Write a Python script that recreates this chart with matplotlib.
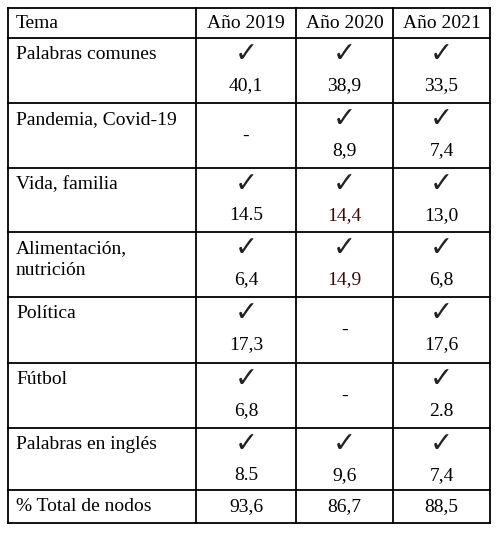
import matplotlib
matplotlib.use("Agg")
import matplotlib.pyplot as plt

headers = ["Tema", "Año 2019", "Año 2020", "Año 2021"]
topics = ["Palabras comunes", "Pandemia, Covid-19", "Vida, familia", "Alimentación,\nnutrición",
          "Política", "Fútbol", "Palabras en inglés"]
v2019 = ["40,1", None, "14.5", "6,4", "17,3", "6,8", "8.5"]
v2020 = ["38,9", "8,9", "14,4", "14,9", None, None, "9,6"]
v2021 = ["33,5", "7,4", "13,0", "6,8", "17,6", "2.8", "7,4"]
totals_label = "% Total de nodos"
totals = ["93,6", "86,7", "88,5"]
highlight = {(1, 2), (1, 3)}  # (col, row) in dark red

W, H = 502, 533
fig = plt.figure(figsize=(W/100, H/100), dpi=100)
ax = fig.add_axes([0, 0, 1, 1])
ax.set_xlim(0, W); ax.set_ylim(H, 0); ax.axis("off")

xs = [8, 196, 296, 393, 490]
ys = [8, 38, 103, 168, 232, 297, 363, 428, 490, 523]
lw = 1.3
for x in xs:
    ax.plot([x, x], [ys[0], ys[-1]], color="black", lw=lw)
for y in ys:
    ax.plot([xs[0], xs[-1]], [y, y], color="black", lw=lw)

ff = "Liberation Serif"
fs = 14
for i, h in enumerate(headers):
    if i == 0:
        ax.text(16, 23, h, fontsize=fs, family=ff, va="center", ha="left")
    else:
        ax.text((xs[i]+xs[i+1])/2, 23, h, fontsize=fs, family=ff, va="center", ha="center")

cols = [v2019, v2020, v2021]
for r, t in enumerate(topics):
    top = ys[r+1]
    ax.text(16, top+8, t, fontsize=fs, family=ff, va="top", ha="left", linespacing=1.35)
    for c, col in enumerate(cols):
        cx = (xs[c+1]+xs[c+2])/2
        v = col[r]
        if v is None:
            ax.text(cx, top+33, "-", fontsize=fs, family=ff, va="center", ha="center")
        else:
            ax.text(cx, top+16, "✓", fontsize=20, family="DejaVu Sans", va="center", ha="center", color="#222222")
            color = "#3d0c0c" if (c, r) in highlight else "black"
            ax.text(cx, top+48, v, fontsize=fs, family=ff, va="center", ha="center", color=color)

ax.text(16, (ys[-2]+ys[-1])/2, totals_label, fontsize=fs, family=ff, va="center", ha="left")
for c, v in enumerate(totals):
    ax.text((xs[c+1]+xs[c+2])/2, (ys[-2]+ys[-1])/2, v, fontsize=fs, family=ff, va="center", ha="center")

fig.savefig("out.png", dpi=100, facecolor="white")
